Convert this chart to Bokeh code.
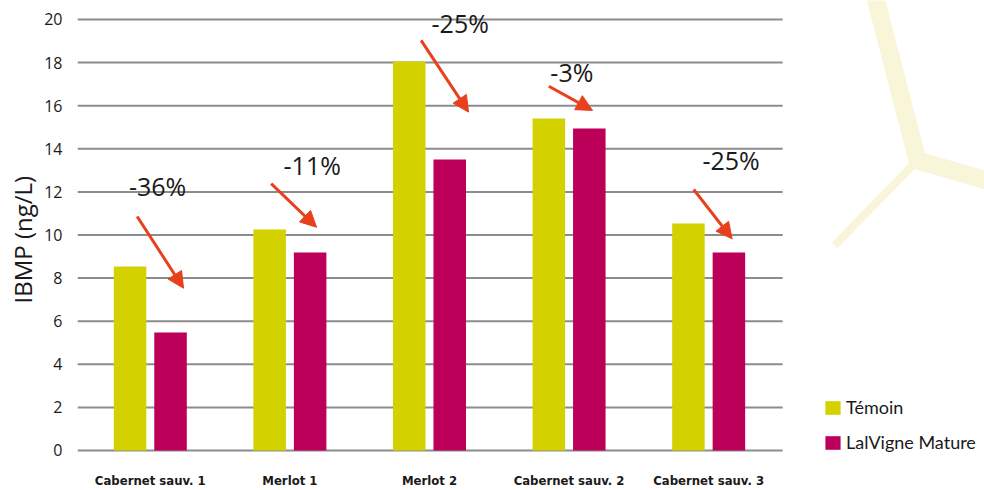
from bokeh.plotting import figure
from bokeh.models import FixedTicker, Range1d, Arrow, NormalHead, ColumnDataSource, Title
from bokeh.core.properties import value
from bokeh.embed import file_html
from bokeh.resources import INLINE

# ---- data ----
categories = ["Cabernet sauv. 1", "Merlot 1", "Merlot 2", "Cabernet sauv. 2", "Cabernet sauv. 3"]
temoin = [8.54, 10.26, 18.05, 15.41, 10.53]
lalvigne = [5.48, 9.19, 13.5, 14.94, 9.19]
series_names = ["Témoin", "LalVigne Mature"]
y_ticks = [0, 2, 4, 6, 8, 10, 12, 14, 16, 18, 20]
y_title = "IBMP (ng/L)"

# percentage-change annotations
change_labels = ["-36%", "-11%", "-25%", "-3%", "-25%"]
label_x = [0.552, 1.66, 2.72, 3.52, 4.661]
label_y = [12.25, 13.23, 19.83, 17.55, 13.49]
arrow_x0 = [0.406, 1.366, 2.44, 3.355, 4.393]
arrow_y0 = [10.86, 12.38, 19.03, 16.90, 12.11]
arrow_x1 = [0.738, 1.691, 2.78, 3.668, 4.668]
arrow_y1 = [7.53, 10.36, 15.70, 15.78, 9.82]

# background decoration (light vine-branch motif)
deco_main_x = [5.681, 5.996, 6.590]
deco_main_y = [21.35, 13.46, 12.35]
deco_branch_x = [5.996, 5.401]
deco_branch_y = [13.46, 9.51]

# ---- styling ----
YELLOW = "#D3D100"
MAGENTA = "#BC005A"
ARROW = "#E8401C"
GRID = "#8C8C8C"
DECO = "#F8F5D8"
TXT = "#1A1A1A"

centers = [i + 0.5 for i in range(len(categories))]
offset = 0.145
bar_w = 0.233
x_lo, x_hi = -0.0215, 6.476
grid_end = 5.03

p = figure(width=984, height=490, output_backend="svg", toolbar_location=None,
           x_range=Range1d(x_lo, x_hi), y_range=Range1d(-0.093, 20.88),
           min_border_left=77, min_border_right=0, min_border_top=0, min_border_bottom=38)
p.outline_line_color = None
p.xgrid.visible = False
p.ygrid.visible = False
p.background_fill_color = "white"

# decoration
p.line(deco_main_x, deco_main_y, line_width=18, line_color=DECO, line_join="miter")
p.line(deco_branch_x, deco_branch_y, line_width=8, line_color=DECO)

# grid lines (only across the category area)
p.segment(x0=[x_lo] * len(y_ticks), x1=[grid_end] * len(y_ticks), y0=y_ticks, y1=y_ticks,
          line_color=GRID, line_width=2)

src = ColumnDataSource(dict(
    xt=[c - offset for c in centers], xl=[c + offset for c in centers],
    temoin=temoin, lalvigne=lalvigne))
p.vbar(x="xt", top="temoin", width=bar_w, bottom=0, source=src, fill_color=YELLOW,
       line_color=None, legend_label=series_names[0])
p.vbar(x="xl", top="lalvigne", width=bar_w, bottom=0, source=src, fill_color=MAGENTA,
       line_color=None, legend_label=series_names[1])

# arrows
asrc = ColumnDataSource(dict(x0=arrow_x0, y0=arrow_y0, x1=arrow_x1, y1=arrow_y1))
p.add_layout(Arrow(end=NormalHead(size=16, fill_color=ARROW, line_color=ARROW, line_width=1),
                   x_start="x0", y_start="y0", x_end="x1", y_end="y1", source=asrc,
                   line_color=ARROW, line_width=3))

p.text(x=label_x, y=label_y, text=change_labels, text_font=value("Open Sans"),
       text_font_size="25px", text_align="center", text_baseline="middle", text_color=TXT)

# axes
xa = p.xaxis[0]
xa.ticker = FixedTicker(ticks=centers)
xa.major_label_overrides = {c: name for c, name in zip(centers, categories)}
xa.axis_line_color = None
xa.major_tick_line_color = None
xa.minor_tick_line_color = None
xa.major_tick_out = 0
xa.major_label_text_font = "'DejaVu Sans Condensed', Lato"
xa.major_label_text_font_style = "bold"
xa.major_label_text_font_size = "13px"
xa.major_label_text_color = TXT
xa.major_label_standoff = 20

ya = p.yaxis[0]
ya.ticker = FixedTicker(ticks=y_ticks)
ya.axis_line_color = None
ya.major_tick_line_color = None
ya.minor_tick_line_color = None
ya.major_tick_out = 0
ya.major_label_text_font = "Open Sans"
ya.major_label_text_font_size = "16px"
ya.major_label_text_color = TXT
ya.major_label_standoff = 15

ytitle = Title(text=y_title, align="left", offset=149, standoff=6,
               text_font="Open Sans", text_font_style="normal", text_font_size="24px",
               text_color=TXT)
p.add_layout(ytitle, "left")

lg = p.legend[0]
lg.location = (746, -1)
lg.border_line_color = None
lg.background_fill_alpha = 0
lg.padding = 0
lg.margin = 0
lg.spacing = 13
lg.glyph_width = 19
lg.glyph_height = 17
lg.label_standoff = 4
lg.label_text_font = "Lato"
lg.label_text_font_size = "18px"
lg.label_text_color = TXT

open("out.html", "w").write(file_html(p, INLINE))
